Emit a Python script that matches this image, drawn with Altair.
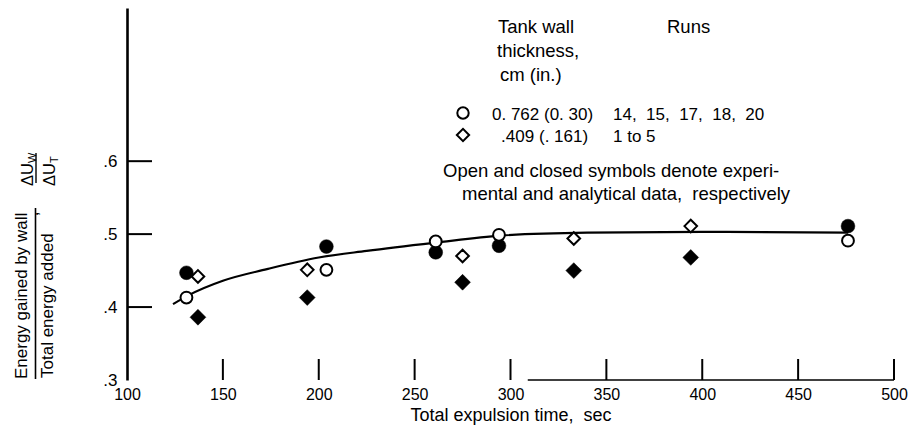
import altair as alt
import pandas as pd

# Tank wall 0.762 cm (0.30 in.), runs 14, 15, 17, 18, 20
thick_time = [131, 204, 261, 294, 476]
thick_experimental = [0.413, 0.451, 0.490, 0.499, 0.491]
thick_analytical = [0.447, 0.483, 0.475, 0.484, 0.511]

# Tank wall 0.409 cm (0.161 in.), runs 1 to 5
thin_time = [137, 194, 275, 333, 394]
thin_experimental = [0.442, 0.451, 0.470, 0.494, 0.511]
thin_analytical = [0.386, 0.413, 0.434, 0.450, 0.468]

# Faired curve through the data
fair_time = [124, 132, 150, 173, 200, 225, 260, 295, 340, 400, 476]
fair_ratio = [0.404, 0.416, 0.436, 0.452, 0.468, 0.477, 0.488, 0.498, 0.502, 0.503, 0.502]

# Axis ticks and the drawn stretch of the time axis
x_ticks = [100, 150, 200, 250, 300, 350, 400, 450, 500]
x_inner_ticks = [150, 200, 250, 300, 350, 400, 450, 500]
y_ticks = [0.3, 0.4, 0.5, 0.6]
y_inner_ticks = [0.4, 0.5, 0.6]
baseline_span = [309, 500]

W, H = 767, 372
FONT = "Liberation Sans, Arial, sans-serif"
NB = "\u00a0"  # keeps the wide gaps in the key and title

xs = alt.Scale(domain=[100, 500], nice=False, zero=False)
ys = alt.Scale(domain=[0.3, 0.81], nice=False, zero=False)

one_row = alt.Data(values=[{}])


def label(text, x, y, size=18.5, align="left", angle=0):
    return alt.Chart(one_row).mark_text(
        text=text, align=align, baseline="alphabetic", angle=angle,
        fontSize=size, font=FONT, color="black",
    ).encode(x=alt.value(x), y=alt.value(y))


def bar(x, y0, y1, width=1.6):
    return alt.Chart(one_row).mark_rule(color="black", strokeWidth=width).encode(
        x=alt.value(x), y=alt.value(y0), y2=alt.value(y1)
    )


def points(times, values, shape, filled, size):
    df = pd.DataFrame({"time": times, "ratio": values})
    style = dict(shape=shape, size=size, opacity=1, filled=True)
    if filled:
        style.update(fill="black", stroke="black", strokeWidth=0.5)
    else:
        style.update(fill="white", stroke="black", strokeWidth=2)
    return alt.Chart(df).mark_point(**style).encode(
        x=alt.X("time:Q", scale=xs),
        y=alt.Y("ratio:Q", scale=ys),
    )


def legend_symbol(shape, x, y, size):
    return alt.Chart(one_row).mark_point(
        shape=shape, size=size, opacity=1, filled=True,
        fill="white", stroke="black", strokeWidth=2,
    ).encode(x=alt.value(x), y=alt.value(y))


# Axes carrying the tick labels and the x title
axes = alt.Chart(pd.DataFrame({"time": [100, 500], "ratio": [0.3, 0.81]})).mark_point(
    opacity=0
).encode(
    x=alt.X("time:Q", scale=xs, title=f"Total expulsion time,{NB} sec",
            axis=alt.Axis(values=x_ticks, domain=False, ticks=False, tickSize=0,
                          labelPadding=6, labelFlush=False, labelOverlap=False,
                          labelFontSize=16, labelFont=FONT, labelColor="black",
                          titleFont=FONT, titleFontSize=18, titleFontWeight="normal",
                          titleColor="black", titlePadding=4, grid=False,
                          format="d")),
    y=alt.Y("ratio:Q", scale=ys, title=None,
            axis=alt.Axis(values=y_ticks, domain=True, domainColor="black",
                          domainWidth=2.6, ticks=False, tickSize=0, labelPadding=10,
                          labelFontSize=17, labelFont=FONT, labelColor="black",
                          labelExpr="substring(format(datum.value, '.1f'), 1)",
                          labelOverlap=False, labelFlush=False, grid=False)),
)

y_tick_marks = alt.Chart(pd.DataFrame({"ratio": y_inner_ticks})).mark_rule(
    color="black", strokeWidth=2
).encode(y=alt.Y("ratio:Q", scale=ys), x=alt.value(0), x2=alt.value(25))

x_tick_marks = alt.Chart(pd.DataFrame({"time": x_inner_ticks})).mark_rule(
    color="black", strokeWidth=2
).encode(x=alt.X("time:Q", scale=xs), y=alt.value(351), y2=alt.value(372))

x_baseline = alt.Chart(
    pd.DataFrame({"start": [baseline_span[0]], "end": [baseline_span[1]], "level": [0.3]})
).mark_rule(color="black", strokeWidth=1.4).encode(
    x=alt.X("start:Q", scale=xs), x2="end:Q", y=alt.Y("level:Q", scale=ys)
)

curve = alt.Chart(pd.DataFrame({"time": fair_time, "ratio": fair_ratio})).mark_line(
    color="black", strokeWidth=2.2, interpolate="monotone"
).encode(x=alt.X("time:Q", scale=xs), y=alt.Y("ratio:Q", scale=ys))

layers = [
    axes, y_tick_marks, x_tick_marks, x_baseline, curve,
    points(thick_time, thick_analytical, "circle", True, 190),
    points(thick_time, thick_experimental, "circle", False, 140),
    points(thin_time, thin_analytical, "diamond", True, 250),
    points(thin_time, thin_experimental, "diamond", False, 160),
    # y-axis title: ratio of wall energy to total energy
    label("Energy gained by wall", -100, 371, size=17, angle=270),
    bar(-91.5, 200, 371),
    label("Total energy added", -74, 370, size=17, angle=270),
    label(",", -89, 206, size=17, align="center", angle=270),
    label("\u0394U", -94, 178, size=16.5, angle=270),
    label("W", -91, 155, size=11, angle=270),
    bar(-91, 145, 175, width=1.4),
    label("\u0394U", -72, 178, size=16.5, angle=270),
    label("T", -69, 155, size=11, angle=270),
    # key
    label("Tank wall", 371, 25),
    label("thickness,", 370, 49),
    label("cm (in.)", 373, 73),
    label("Runs", 540, 25),
    legend_symbol("circle", 336, 105, 130),
    label("0. 762 (0. 30)", 365, 112, size=17),
    label(f"14,{NB} 15,{NB} 17,{NB} 18,{NB} 20", 486, 112, size=17),
    legend_symbol("diamond", 336, 127, 150),
    label(".409", 374, 134, size=17),
    label("(. 161)", 412, 134, size=17),
    label("1 to 5", 486, 134, size=17),
    label("Open and closed symbols denote experi-", 316, 169),
    label(f"mental and analytical data,{NB} respectively", 335, 192),
]

chart = alt.layer(*layers).properties(
    width=W, height=H,
    autosize=alt.AutoSizeParams(type="none"),
    padding={"left": 127, "top": 8, "right": 14, "bottom": 45},
    background="white",
).configure_view(strokeWidth=0)

chart.save("out.html", embed_options={"renderer": "svg", "actions": False})
